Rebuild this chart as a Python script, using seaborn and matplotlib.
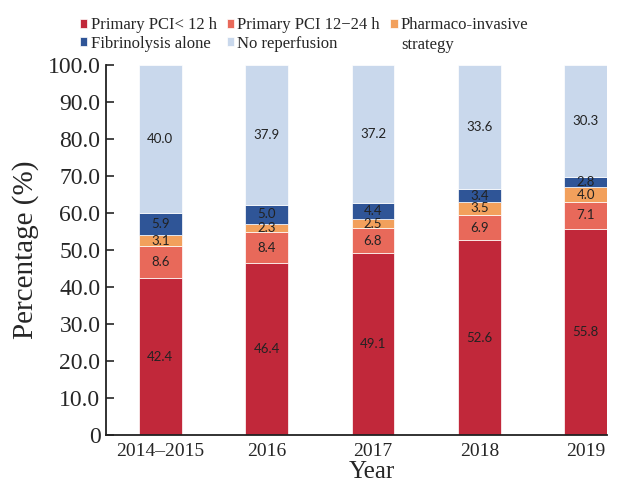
import matplotlib

matplotlib.use("Agg")
import matplotlib.pyplot as plt
import numpy as np
import pandas as pd
import seaborn as sns

years = ["2014\u20132015", "2016", "2017", "2018", "2019"]
pci_lt12 = [42.4, 46.4, 49.1, 52.6, 55.8]
pci_12_24 = [8.6, 8.4, 6.8, 6.9, 7.1]
pharmaco = [3.1, 2.3, 2.5, 3.5, 4.0]
fibrinolysis = [5.9, 5.0, 4.4, 3.4, 2.8]
no_reperfusion = [40.0, 37.9, 37.2, 33.6, 30.3]

series_names = [
    "Primary PCI< 12 h",
    "Primary PCI 12\u221224 h",
    "Pharmaco-invasive",
    "Fibrinolysis alone",
    "No reperfusion",
]
series_values = [pci_lt12, pci_12_24, pharmaco, fibrinolysis, no_reperfusion]
colors = ["#C1283A", "#E8695A", "#F2A05C", "#2F5597", "#C9D8EC"]

sns.set_theme(style="ticks")
plt.rcParams["font.family"] = ["Liberation Serif", "DejaVu Serif"]

fig = plt.figure(figsize=(6.2, 4.84), dpi=100)
ax = fig.add_axes([0.171, 0.101, 0.808, 0.765])

df = pd.DataFrame({"Year": years})
bottom = np.zeros(len(years))
handles = []
for name, vals, col in zip(series_names, series_values, colors):
    df[name] = vals
    sns.barplot(
        data=df,
        x="Year",
        y=name,
        color=col,
        saturation=1,
        width=0.4,
        bottom=bottom,
        edgecolor="white",
        linewidth=0.5,
        ax=ax,
    )
    cont = ax.containers[-1]
    handles.append(cont.patches[0])
    ax.bar_label(
        cont,
        labels=[f"{v:.1f}" for v in vals],
        label_type="center",
        fontsize=9.5,
        family=["Lato", "DejaVu Sans"],
        color="#222222",
    )
    bottom = bottom + np.array(vals)

ax.set_xlim(-0.51, 4.2)
ax.set_ylim(0, 100)
ax.set_yticks(np.arange(0, 101, 10))
ax.set_yticklabels(["0"] + [f"{v:.1f}" for v in np.arange(10, 101, 10)])
ax.tick_params(axis="y", direction="in", length=6, width=1.2, labelsize=17, pad=4)
ax.tick_params(axis="x", length=0, labelsize=14, pad=6)
ax.set_xlabel("Year", fontsize=18, labelpad=0)
ax.xaxis.set_label_coords(0.53, -0.07)
ax.set_ylabel("Percentage (%)", fontsize=21, labelpad=6)
for s in ["top", "right"]:
    ax.spines[s].set_visible(False)
for s in ["left", "bottom"]:
    ax.spines[s].set_color("#222222")
    ax.spines[s].set_linewidth(1.3)

# legend order: column-major so it reads row-wise like the original
order = [0, 3, 1, 4, 2]
leg = fig.legend(
    [handles[i] for i in order],
    [series_names[i] for i in order],
    ncol=3,
    loc="upper left",
    bbox_to_anchor=(0.118, 0.978),
    frameon=False,
    fontsize=12,
    handlelength=0.45,
    handleheight=0.45,
    handletextpad=0.2,
    columnspacing=0.6,
    labelspacing=0.15,
    borderaxespad=0,
)

fig.canvas.draw()
renderer = fig.canvas.get_renderer()
txt = leg.get_texts()[4]
bb = txt.get_window_extent(renderer).transformed(fig.transFigure.inverted())
fig.text(bb.x0, bb.y0 - 0.008, "strategy", fontsize=12, va="top", ha="left")

fig.savefig("out.png", dpi=100)
